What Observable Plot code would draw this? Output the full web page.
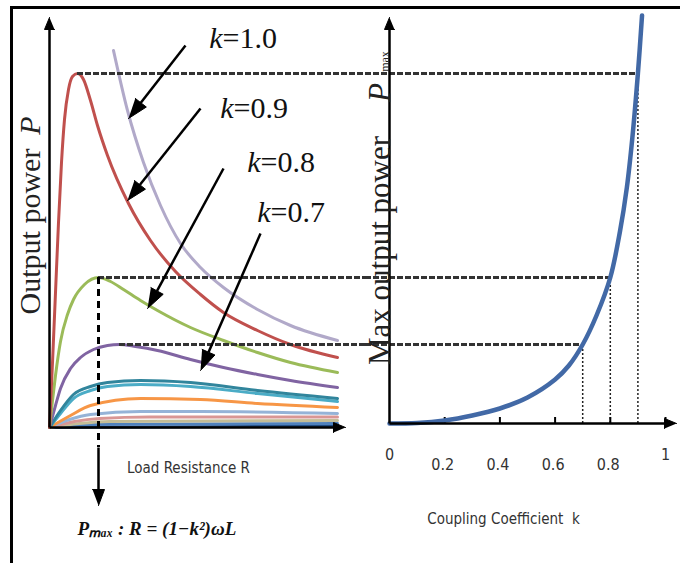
<!DOCTYPE html>
<html><head><meta charset="utf-8">
<script src="https://cdn.jsdelivr.net/npm/d3@7"></script>
<script src="https://cdn.jsdelivr.net/npm/@observablehq/plot@0.6"></script>
<style>
body{margin:0;background:#fff;}
#wrap{position:relative;width:680px;height:563px;overflow:hidden;background:#fff;}
#frame{position:absolute;left:10px;top:6px;width:700px;height:600px;border-top:3px solid #000;border-left:3px solid #000;}
#left{position:absolute;left:0;top:0;}
#right{position:absolute;left:365px;top:0;}
svg{overflow:visible;}
</style></head><body>
<div id="wrap"><div id="frame"></div><div id="left"></div><div id="right"></div></div>
<script>
// ---------- Left panel: output power P vs load resistance R (arbitrary units) ----------
// each curve: [R, P]
const curveK10 = [[6.4,37.7],[7.8,31.7],[9.4,26.5],[11.1,22.2],[13.1,18.4],[15.1,16.0],[17.4,14.0],[20.8,11.8],[24.1,10.2],[28.8,8.7]];
const curveK09 = [[0,0],[0.3,6.5],[0.6,13.5],[0.9,20.5],[1.2,26.5],[1.5,30.8],[1.9,33.8],[2.3,35.1],[2.8,35.4],[3.4,34.8],[4.1,32.7],[4.8,30.2],[5.8,27.2],[7.9,22.4],[10.1,18.7],[12.6,15.6],[15.1,13.3],[17.4,11.5],[20.8,9.7],[24.1,8.3],[28.8,7.0]];
const curveK08 = [[0,0],[0.3,2.7],[0.6,5.2],[1.1,8.6],[1.8,11.3],[2.4,12.8],[3.5,14.3],[4.9,15.0],[6.1,14.6],[7.4,13.8],[9.1,12.7],[10.8,11.7],[14.1,10.0],[17.4,8.7],[20.8,7.5],[24.1,6.5],[28.8,5.5]];
const curveK07 = [[0,0],[0.6,2.2],[1.1,3.9],[2.1,5.9],[3.1,7.0],[4.4,7.8],[5.8,8.2],[7.0,8.3],[8.6,8.1],[10.8,7.7],[14.1,6.8],[17.4,6.0],[20.8,5.3],[24.1,4.7],[28.8,4.0]];
const curveTeal = [[0,0],[1.1,1.7],[2.4,3.3],[4.1,4.1],[5.8,4.5],[9.1,4.7],[14.1,4.5],[20.8,3.7],[28.8,2.9]];
const curveCyan = [[0,0],[1.1,1.4],[2.4,2.9],[4.1,3.7],[5.8,4.1],[9.1,4.3],[14.1,4.1],[20.8,3.4],[28.8,2.6]];
const curveOrange = [[0,0],[2.1,1.2],[4.1,2.2],[9.1,2.9],[15.1,2.8],[20.8,2.4],[28.8,2.0]];
const curveLightBlue = [[0,0],[2,0.8],[4.1,1.3],[9.1,1.6],[15.1,1.6],[28.8,1.4]];
const curvePink = [[0,0],[2.5,0.6],[5,0.9],[10,1.05],[28.8,1.05]];
const curveTan = [[0,0],[3,0.4],[6,0.6],[28.8,0.7]];
const curveBlue = [[0,0],[4,0.3],[28.8,0.4]];
const curveNavy = [[0,0],[28.8,0.15]];

const leftCurves = [curveNavy, curveBlue, curveTan, curvePink, curveLightBlue, curveOrange, curveCyan, curveTeal, curveK07, curveK08, curveK09, curveK10];
const leftColors = ["#1f497d","#4f81bd","#c4bd97","#d99694","#95b3d7","#f79646","#4bacc6","#31859c","#8064a2","#9bbb59","#c0504d","#b1a9c9"];

// maximum points (k, R at peak, P at peak)
const peakK = [0.9, 0.8, 0.7];
const peakR = [2.8, 4.9, 7.0];
const peakP = [35.4, 15.0, 8.3];

// k labels and their arrows (data units of the left panel)
const kLabelText = ["1.0", "0.9", "0.8", "0.7"];
const kLabelR = [17.3, 18.4, 21.1, 22.1];
const kLabelP = [38.9, 31.95, 26.55, 21.5];
const arrowFrom = [[13.6,38.2],[15.1,31.9],[17.4,25.9],[21.1,19.4]];
const arrowTo = [[7.9,30.9],[7.8,22.7],[9.8,11.9],[15.1,5.7]];

// ---------- Right panel: max output power vs coupling coefficient k ----------
const kVals = [0, 0.1, 0.2, 0.3, 0.4, 0.5, 0.6, 0.65, 0.7, 0.75, 0.8, 0.835, 0.86, 0.88, 0.9, 0.915];
const pmaxVals = [0.4, 0.45, 0.7, 1.2, 1.9, 3.0, 4.8, 6.2, 8.3, 11.2, 15.0, 19.6, 24.0, 29.0, 35.4, 41.2];
const kTicks = [0.2, 0.4, 0.6, 0.8, 1.0];
const kTickLabelsMid = [0.2, 0.4, 0.6, 0.8];
const kTickLabelsEnd = [0, 1];

// ---------- scales ----------
const H = 563, MT = 17, MB = 136;
const yDom = [0, 41];
const LW = 365, LML = 49;
const xDomL = [0, 31.6];
const RW = 315;
const kDom = [-24/276, 291/276];
const rightBase = 0.4;

const sxL = (LW - LML) / (xDomL[1] - xDomL[0]);
const sy = (H - MT - MB) / (yDom[1] - yDom[0]);
const sxR = RW / (kDom[1] - kDom[0]);

function head(x1, y1, x2, y2, len, half, sx, sy) {
  const dx = (x2 - x1) * sx, dy = (y2 - y1) * sy, L = Math.hypot(dx, dy);
  const ux = dx / L, uy = dy / L;
  const bx = x2 * sx - ux * len, by = y2 * sy - uy * len;
  return {
    base: [bx / sx, by / sy],
    tri: [[x2, y2], [(bx - uy * half) / sx, (by + ux * half) / sy], [(bx + uy * half) / sx, (by - ux * half) / sy]]
  };
}
function arrowMarks(x1, y1, x2, y2, len, half, sx, sy, sw) {
  const h = head(x1, y1, x2, y2, len, half, sx, sy);
  return [
    Plot.link([0], {x1: () => x1, y1: () => y1, x2: () => h.base[0], y2: () => h.base[1], stroke: "#000", strokeWidth: sw}),
    Plot.line(h.tri, {x: d => d[0], y: d => d[1], fill: "#000", stroke: "#000", strokeWidth: 1, strokeLinejoin: "miter"})
  ];
}

const serif = "Liberation Serif, Times New Roman, serif";
const sans = "DejaVu Sans Condensed, DejaVu Sans, sans-serif";

// ---------- left plot ----------
const leftMarks = [];
leftCurves.forEach((c, i) => {
  leftMarks.push(Plot.line(c, {x: d => d[0], y: d => d[1], stroke: leftColors[i], strokeWidth: 3, curve: "monotone-x"}));
});
// axes
leftMarks.push(...arrowMarks(0, 0, 0, 41, 12, 5, sxL, sy, 2.5));
leftMarks.push(...arrowMarks(0, 0, 29.6, 0, 12, 5, sxL, sy, 2.5));
// dashed max lines
leftMarks.push(Plot.ruleY(peakP, {y: d => d, x1: (d, i) => peakR[i], x2: () => xDomL[1], stroke: "#333", strokeWidth: 3, strokeDasharray: "6,2"}));
// vertical dashed + arrow at the k=0.8 maximum
leftMarks.push(Plot.ruleX([peakR[1]], {x: d => d, y1: () => peakP[1], y2: () => -2.0, stroke: "#000", strokeWidth: 3, strokeDasharray: "7,5"}));
leftMarks.push(...arrowMarks(peakR[1], -2.0, peakR[1], -7.8, 16, 6, sxL, sy, 2.5));
// k label arrows
arrowFrom.forEach((f, i) => leftMarks.push(...arrowMarks(f[0], f[1], arrowTo[i][0], arrowTo[i][1], 20, 7, sxL, sy, 2.5)));
// k labels
const kLabels = kLabelText.map((t, i) => ({t, r: kLabelR[i], p: kLabelP[i]}));
leftMarks.push(Plot.text(kLabels, {x: "r", y: "p", text: () => "k", textAnchor: "end", fontStyle: "italic", fontFamily: serif, fontSize: 30, fill: "#111"}));
leftMarks.push(Plot.text(kLabels, {x: "r", y: "p", text: d => "=" + d.t, textAnchor: "start", fontFamily: serif, fontSize: 30, fill: "#111"}));
// y label
leftMarks.push(Plot.text(["Output power"], {frameAnchor: "left", dx: -19, y: () => 19.6, rotate: -90, textAnchor: "middle", fontFamily: serif, fontSize: 30, fill: "#222"}));
leftMarks.push(Plot.text(["P"], {frameAnchor: "left", dx: -19, y: () => 30.2, rotate: -90, textAnchor: "middle", fontFamily: serif, fontStyle: "italic", fontSize: 30, fill: "#222"}));
// x label and formula
leftMarks.push(Plot.text(["Load Resistance R"], {x: () => 13.9, y: () => -4.1, fontFamily: sans, fontSize: 15, fill: "#333"}));
leftMarks.push(Plot.text(["Pₘₐₓ : R = (1−k²)ωL"], {x: () => 2.8, y: () => -10.1, textAnchor: "start", fontFamily: serif, fontStyle: "italic", fontWeight: "bold", fontSize: 19, fill: "#111"}));

const left = Plot.plot({
  width: LW, height: H, marginLeft: LML, marginRight: 0, marginTop: MT, marginBottom: MB,
  x: {domain: xDomL, axis: null}, y: {domain: yDom, axis: null},
  style: {background: "transparent", overflow: "visible"},
  marks: leftMarks
});
document.getElementById("left").append(left);

// ---------- right plot ----------
const rightMarks = [];
rightMarks.push(Plot.ruleY(peakP, {y: d => d, x1: () => kDom[0], x2: (d, i) => peakK[i], stroke: "#333", strokeWidth: 3, strokeDasharray: "6,2"}));
rightMarks.push(Plot.ruleX(peakK, {x: d => d, y1: () => rightBase, y2: (d, i) => peakP[i], stroke: "#222", strokeWidth: 1.5, strokeDasharray: "2,2"}));
rightMarks.push(Plot.ruleX(kTicks, {x: d => d, y1: () => rightBase, y2: () => rightBase + 0.6, stroke: "#000", strokeWidth: 2}));
rightMarks.push(Plot.line(kVals.map((k, i) => [k, pmaxVals[i]]), {x: d => d[0], y: d => d[1], stroke: "#4269a6", strokeWidth: 4.5, curve: "catmull-rom"}));
rightMarks.push(...arrowMarks(0, rightBase, 0, 41, 12, 5, sxR, sy, 2.5));
rightMarks.push(...arrowMarks(0, rightBase, 1.04, rightBase, 12, 5, sxR, sy, 2.5));
rightMarks.push(Plot.text(kTickLabelsEnd, {x: d => d, y: () => rightBase, dy: 31, text: d => String(d), fontFamily: sans, fontSize: 16, fill: "#333"}));
rightMarks.push(Plot.text(kTickLabelsMid, {x: d => d, y: () => rightBase, dy: 41, dx: -2, text: d => d.toFixed(1), fontFamily: sans, fontSize: 16, fill: "#333"}));
rightMarks.push(Plot.text(["Coupling Coefficient  k"], {x: () => 0.413, y: () => -9.2, fontFamily: sans, fontSize: 15, fill: "#333"}));
rightMarks.push(Plot.text(["Max output power"], {x: () => 0, dx: -9, y: () => 17.7, rotate: -90, fontFamily: serif, fontSize: 31, fill: "#222"}));
rightMarks.push(Plot.text(["P"], {x: () => 0, dx: -9, y: () => 33.5, rotate: -90, fontFamily: serif, fontStyle: "italic", fontSize: 31, fill: "#222"}));
rightMarks.push(Plot.text(["max"], {x: () => 0, dx: -4, y: () => 36.6, rotate: -90, fontFamily: serif, fontSize: 12, fill: "#222"}));

const right = Plot.plot({
  width: RW, height: H, marginLeft: 0, marginRight: 0, marginTop: MT, marginBottom: MB,
  x: {domain: kDom, axis: null}, y: {domain: yDom, axis: null},
  style: {background: "transparent", overflow: "visible"},
  marks: rightMarks
});
document.getElementById("right").append(right);
</script>
</body></html>
